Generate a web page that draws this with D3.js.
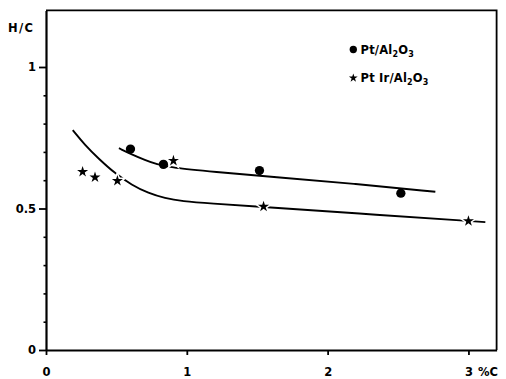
<!DOCTYPE html>
<html><head><meta charset="utf-8">
<script src="https://cdn.jsdelivr.net/npm/d3@7"></script>
<style>
body{margin:0;background:#fff}
svg{display:block}
text{font-family:"DejaVu Sans",sans-serif;font-weight:bold;fill:#000}
</style></head><body>
<svg id="chart" width="506" height="379"></svg>
<script>
// Pt/Al2O3 measurements (%C vs H/C)
const ptX = [0.60, 0.834, 1.516, 2.52];
const ptY = [0.710, 0.656, 0.634, 0.554];
// PtIr/Al2O3 measurements
const ptirX = [0.26, 0.348, 0.507, 0.905, 1.545, 3.0];
const ptirY = [0.630, 0.610, 0.598, 0.669, 0.507, 0.456];
// hand-drawn trend curves
const ptFitX = [0.518, 0.609, 0.704, 0.786, 0.893, 1.19, 1.616, 2.185, 2.765];
const ptFitY = [0.713, 0.691, 0.671, 0.656, 0.644, 0.630, 0.611, 0.588, 0.559];
const ptirFitX = [0.19, 0.277, 0.372, 0.49, 0.609, 0.727, 0.846, 0.96, 1.19, 1.43, 2.2, 3.12];
const ptirFitY = [0.777, 0.724, 0.677, 0.624, 0.583, 0.554, 0.536, 0.526, 0.517, 0.509, 0.483, 0.452];
// axis ticks
const xTicks = [0, 1, 2, 3];
const yTicks = [0, 0.5, 1];
const yMinorTicks = [0.1, 0.2, 0.3, 0.4, 0.6, 0.7, 0.8, 0.9];

const svg = d3.select("#chart");
const x = d3.scaleLinear().domain([0, 3.2]).range([46, 496.6]);
const y = d3.scaleLinear().domain([0, 1.2]).range([350, 10.4]);

// frame: top and right edges
svg.append("path")
  .attr("d", `M${x(0)},${y(1.2)}H${x(3.2)}V${y(0)}`)
  .attr("fill", "none").attr("stroke", "#000").attr("stroke-width", 1.8);

// minor y ticks
svg.append("g").attr("transform", `translate(${x(0)},0)`)
  .call(d3.axisLeft(y).tickValues(yMinorTicks).tickSize(2.5).tickFormat(""))
  .call(g => g.select(".domain").remove())
  .call(g => g.selectAll("line").attr("stroke-width", 1.6));

// y axis
svg.append("g").attr("transform", `translate(${x(0)},0)`)
  .call(d3.axisLeft(y).tickValues(yTicks).tickSize(7).tickSizeOuter(0).tickPadding(3)
    .tickFormat(d => d === 0.5 ? "0.5" : d3.format("d")(d)))
  .call(g => g.select(".domain").attr("stroke-width", 2.2))
  .call(g => g.selectAll("line").attr("stroke-width", 1.8))
  .call(g => g.selectAll("text").attr("font-size", 11.5).attr("font-family", null));

// x axis
svg.append("g").attr("transform", `translate(0,${y(0)})`)
  .call(d3.axisBottom(x).tickValues(xTicks).tickSize(5).tickSizeOuter(0).tickPadding(13)
    .tickFormat(d3.format("d")))
  .call(g => g.select(".domain").attr("stroke-width", 2.2))
  .call(g => g.selectAll("line").attr("stroke-width", 1.8))
  .call(g => g.selectAll("text").attr("font-size", 11.5).attr("font-family", null));

// axis titles
svg.append("text").attr("x", 478).attr("y", 376).attr("font-size", 11.5).text("%C");
svg.append("text").attr("x", 8).attr("y", 31.8).attr("font-size", 11.5)
  .attr("letter-spacing", 1.3).text("H/C");

// trend curves
const line = d3.line().x(d => x(d[0])).y(d => y(d[1])).curve(d3.curveBasis);
svg.append("path").datum(d3.zip(ptFitX, ptFitY)).attr("d", line)
  .attr("fill", "none").attr("stroke", "#000").attr("stroke-width", 1.9);
svg.append("path").datum(d3.zip(ptirFitX, ptirFitY)).attr("d", line)
  .attr("fill", "none").attr("stroke", "#000").attr("stroke-width", 1.9);

// points
const circle = d3.symbol(d3.symbolCircle, 68);
const star = d3.symbol(d3.symbolStar, 38);
svg.append("g").selectAll("path").data(d3.zip(ptX, ptY)).join("path")
  .attr("transform", d => `translate(${x(d[0])},${y(d[1])})`)
  .attr("d", circle).attr("fill", "#000");
svg.append("g").selectAll("path").data(d3.zip(ptirX, ptirY)).join("path")
  .attr("transform", d => `translate(${x(d[0])},${y(d[1])})`)
  .attr("d", star).attr("fill", "#000")
  .attr("stroke", "#fff").attr("stroke-width", 3).attr("paint-order", "stroke");

// legend
const legend = [
  { sym: d3.symbol(d3.symbolCircle, 42), parts: ["Pt/Al", "2", "O", "3"], y: 49.5 },
  { sym: d3.symbol(d3.symbolStar, 24), parts: ["Pt Ir/Al", "2", "O", "3"], y: 78 }
];
const lg = svg.append("g").selectAll("g").data(legend).join("g");
lg.append("path").attr("transform", d => `translate(353.3,${d.y})`)
  .attr("d", d => d.sym()).attr("fill", "#000");
const lt = lg.append("text").attr("x", 360.5).attr("y", d => d.y + 4)
  .attr("font-size", 11.5).attr("letter-spacing", 0.2);
lt.each(function(d) {
  const t = d3.select(this);
  d.parts.forEach((p, i) => {
    const sub = i % 2 === 1;
    const s = t.append("tspan").text(p);
    if (sub) s.attr("font-size", 8).attr("dy", 3);
    else if (i > 0) s.attr("dy", -3);
  });
});
</script>
</body></html>
